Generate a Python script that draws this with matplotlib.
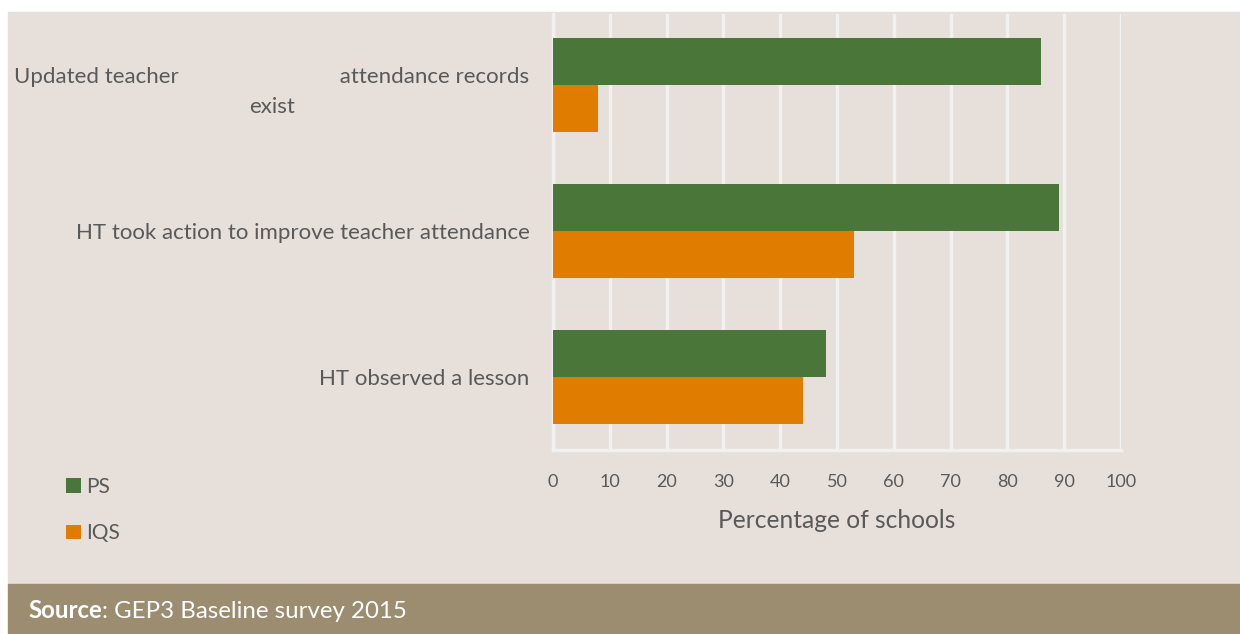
import matplotlib.pyplot as plt
import numpy as np

categories = ["Updated teacher                            attendance records\nexist",
              "HT took action to improve teacher attendance",
              "HT observed a lesson"]
ps_values = [86, 89, 48]
iqs_values = [8, 53, 44]
x_ticks = [0, 10, 20, 30, 40, 50, 60, 70, 80, 90, 100]

bg = "#e7e0da"
green = "#4a763a"
orange = "#e07c00"
grey = "#595959"

plt.rcParams['font.family'] = ['Lato', 'DejaVu Sans']

fig = plt.figure(figsize=(12.4, 6.34), dpi=100)
fig.patch.set_facecolor("white")

# beige panel and source strip
fig.patches.append(plt.Rectangle((8/1240, 50/634), 1 - 8/1240, (634-12-50)/634,
                                 transform=fig.transFigure, color=bg, zorder=-2))
fig.patches.append(plt.Rectangle((8/1240, 0), 1 - 8/1240, 50/634,
                                 transform=fig.transFigure, color="#9c8c70", zorder=-2))

ax = fig.add_axes([553/1240, 1 - 450/634, (1121-553)/1240, (450-14)/634])
ax.set_facecolor(bg)

y = np.arange(len(categories))
h = 0.325
ax.barh(y - h/2, ps_values, height=h, color=green, zorder=3, label="PS")
ax.barh(y + h/2, iqs_values, height=h, color=orange, zorder=3, label="IQS")

ax.set_xlim(0, 100)
ax.set_ylim(2.5, -0.486)
ax.set_xticks(x_ticks)
ax.set_xticklabels([str(t) for t in x_ticks], fontsize=13, color=grey)
ax.tick_params(axis='x', length=0, pad=17)
ax.tick_params(axis='y', length=0, pad=17)
ax.set_yticks(y)
ax.set_yticklabels(categories, fontsize=16, color=grey, multialignment='center',
                   linespacing=1.6)

for s in ["top", "right"]:
    ax.spines[s].set_visible(False)
for s in ["left", "bottom"]:
    ax.spines[s].set_color("#f3f1ef")
    ax.spines[s].set_linewidth(2.5)
ax.grid(axis='x', color="#f3f1ef", linewidth=2.5, zorder=1)
ax.set_axisbelow(True)

ax.set_xlabel("Percentage of schools", fontsize=17.7, color=grey, labelpad=14)

handles, labels = ax.get_legend_handles_labels()
fig.legend(handles, labels, loc="upper left", bbox_to_anchor=(66/1240, 1 - 477/634),
           frameon=False, fontsize=15, handlelength=0.7, handleheight=0.7,
           handletextpad=0.25, labelspacing=1.27, labelcolor=grey,
           borderpad=0, borderaxespad=0)

src = fig.text(28/1240, 1 - 611/634, "Source", fontsize=17.3, color="white",
               va="center", fontweight="bold")
fig.canvas.draw()
bb = src.get_window_extent()
fig.text(bb.x1 / 1240, 1 - 611/634, ": GEP3 Baseline survey 2015", fontsize=17.3,
         color="white", va="center")

fig.savefig("out.png", dpi=100, facecolor=fig.get_facecolor())
